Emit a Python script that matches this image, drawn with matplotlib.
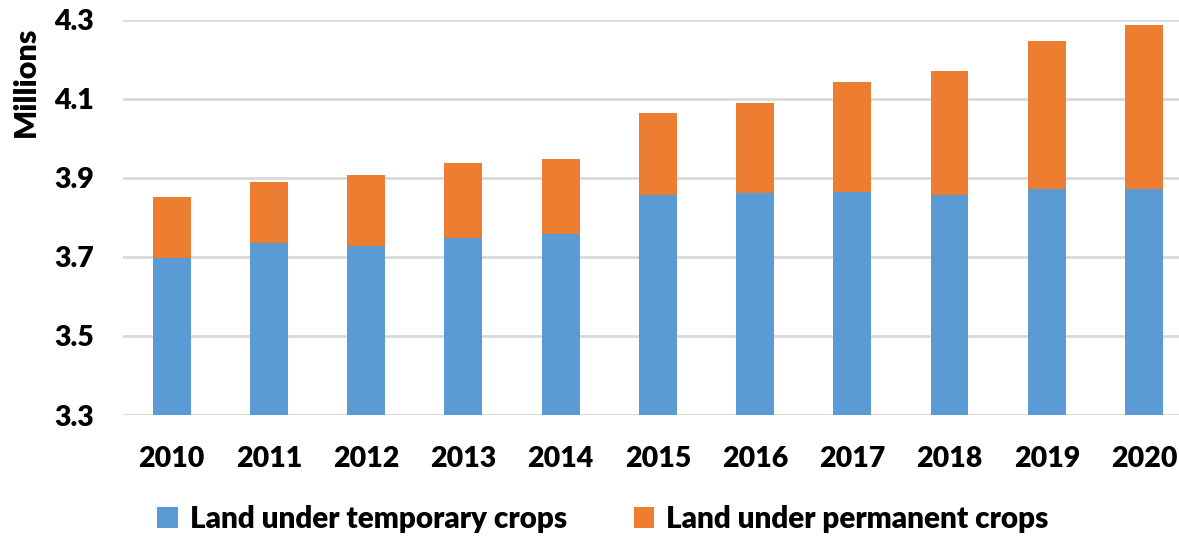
import numpy as np
import matplotlib.pyplot as plt

years = ["2010", "2011", "2012", "2013", "2014", "2015", "2016", "2017", "2018", "2019", "2020"]
temporary = [3.697, 3.735, 3.727, 3.747, 3.758, 3.857, 3.861, 3.865, 3.856, 3.872, 3.872]
total = [3.852, 3.889, 3.908, 3.938, 3.947, 4.063, 4.088, 4.141, 4.169, 4.245, 4.285]
permanent = [t - b for t, b in zip(total, temporary)]
base = 3.3

blue = "#5B9BD5"
orange = "#ED7D31"

plt.rcParams['font.family'] = ['Lato', 'DejaVu Sans']
plt.rcParams['font.weight'] = 'heavy'

fig = plt.figure(figsize=(11.79, 5.37), dpi=100)
ax = fig.add_axes([123 / 1179, 1 - 415 / 537, 1 - 123 / 1179, (415 - 19.5) / 537])

x = np.arange(len(years))
w = 0.39
ax.bar(x, np.array(temporary) - base, w, bottom=base, color=blue,
       label="Land under temporary crops", zorder=3)
ax.bar(x, permanent, w, bottom=temporary, color=orange,
       label="Land under permanent crops", zorder=3)

ax.set_ylim(3.3, 4.3)
ax.set_yticks([3.3, 3.5, 3.7, 3.9, 4.1, 4.3])
ax.set_yticklabels(["3.3", "3.5", "3.7", "3.9", "4.1", "4.3"])
ax.set_xlim(-0.5, 10.36)
ax.set_xticks(x)
ax.set_xticklabels(years)
ax.tick_params(axis='both', length=0, labelsize=20.5)
ax.tick_params(axis='x', pad=22)
ax.tick_params(axis='y', pad=21)
for lab in ax.get_xticklabels() + ax.get_yticklabels():
    lab.set_fontweight('heavy')

ax.grid(axis='y', color='#D9D9D9', linewidth=2, zorder=0)
for s in ax.spines.values():
    s.set_visible(False)

fig.text(26 / 1179, 1 - 82 / 537, "Millions", rotation=90, ha='center', va='center',
         fontsize=22, fontweight='heavy')

fig.legend(loc='center', bbox_to_anchor=(603 / 1179, 1 - 519 / 537), ncol=2,
           frameon=False, fontsize=21.3, handlelength=0.7, handleheight=0.7,
           handletextpad=0.4, columnspacing=2.25)

fig.savefig("out.png", dpi=100)
